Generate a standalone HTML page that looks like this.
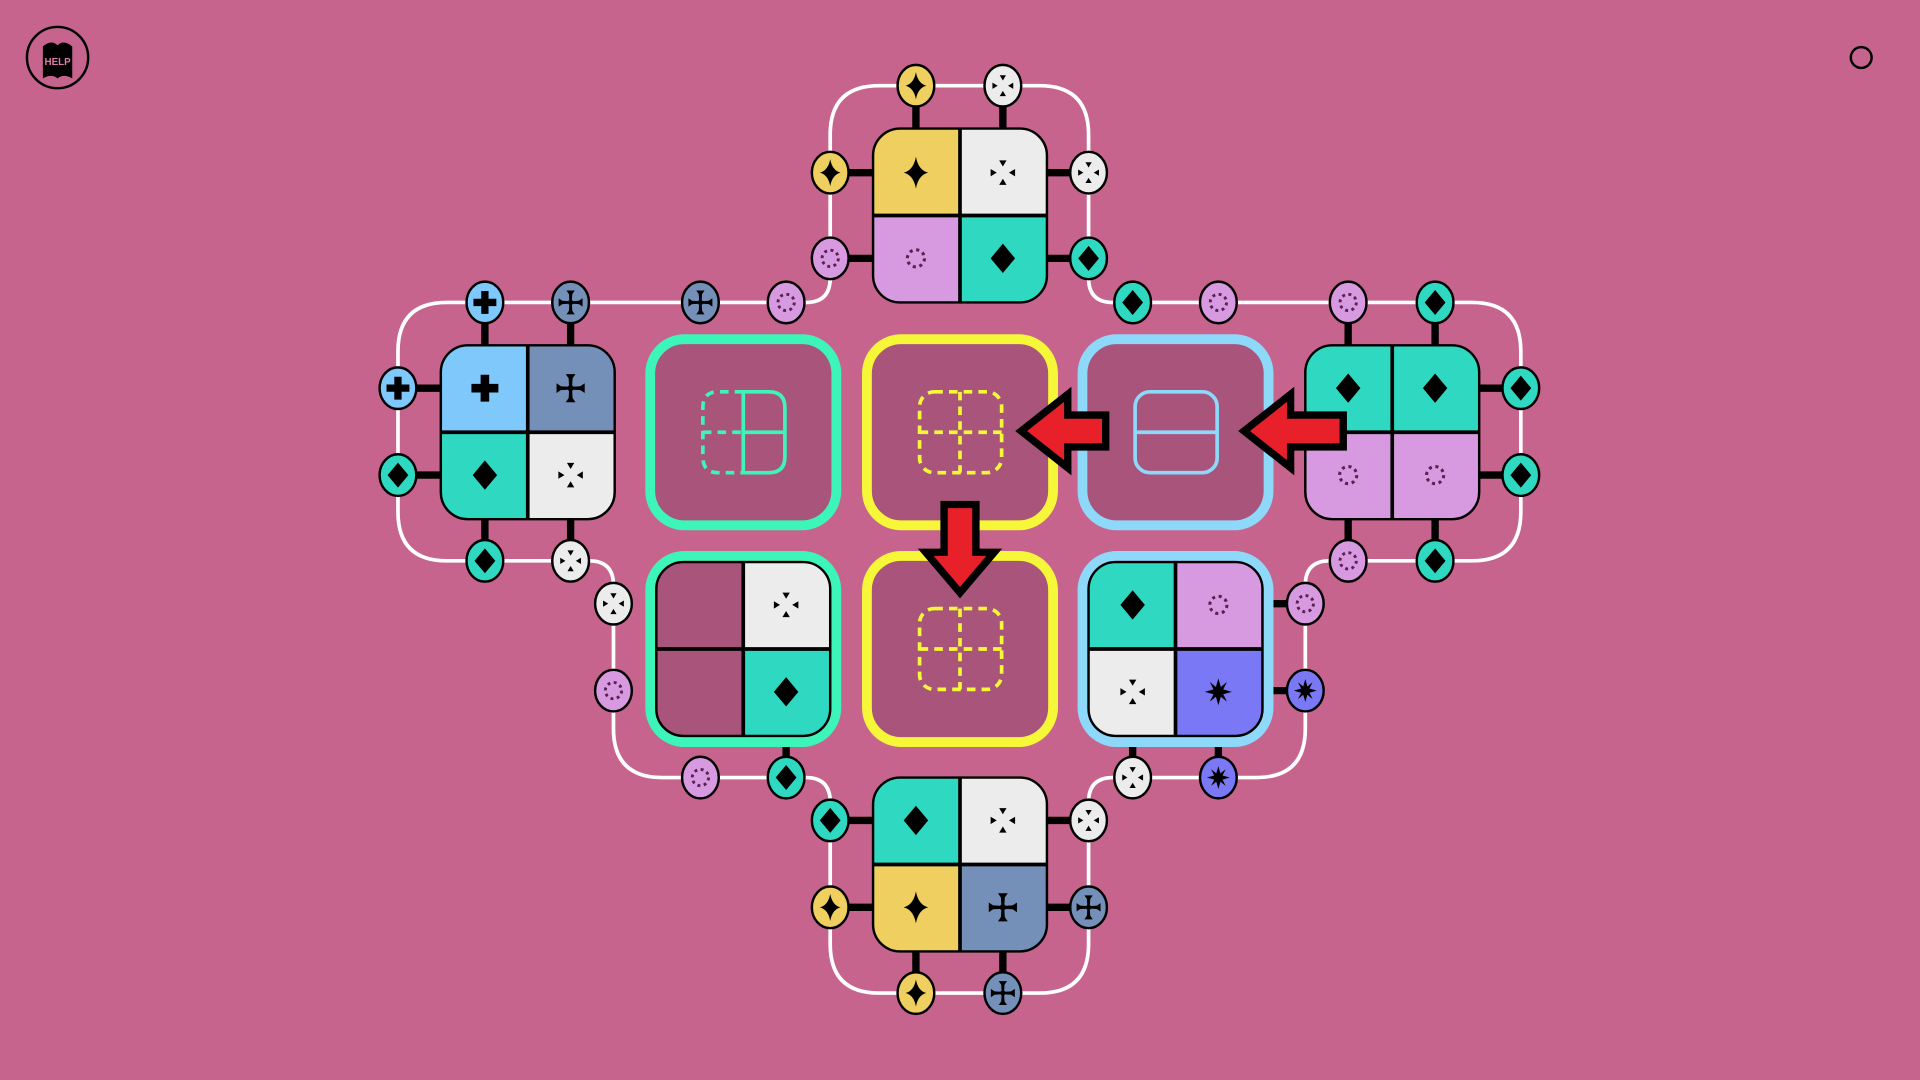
<!DOCTYPE html>
<html><head><meta charset="utf-8"><style>
html,body{margin:0;padding:0;background:#c6648e;}
svg{display:block}
</style></head><body>
<svg width="1920" height="1080" viewBox="0 0 1568 882" xmlns="http://www.w3.org/2000/svg">
<defs>
<clipPath id="tc"><rect x="-71" y="-71" width="142" height="142" rx="22"/></clipPath>
<g id="dia"><polygon points="0,-12 10,0 0,12 -10,0" fill="#000"/></g>
<g id="st4"><path d="M0,-13 Q2,-2 10,0 Q2,2 0,13 Q-2,2 -10,0 Q-2,-2 0,-13Z" fill="#000"/></g>
<g id="pl"><path d="M-3.5,-11h7v7.5h7.5v7h-7.5v7.5h-7v-7.5h-7.5v-7h7.5z" fill="#000"/></g>
<g id="dt" fill="#000"><polygon points="-3,-10 3,-10 0,-5"/><polygon points="-3,10 3,10 0,5"/><polygon points="-10,-3 -10,3 -5,0"/><polygon points="10,-3 10,3 5,0"/></g>
<g id="arm"><path d="M-1.2,-1 L-1.6,-8 L-4,-11.5 L4,-11.5 L1.6,-8 L1.2,-1 Z"/></g>
<g id="ml" fill="#000"><use href="#arm"/><use href="#arm" transform="rotate(90)"/><use href="#arm" transform="rotate(180)"/><use href="#arm" transform="rotate(270)"/><rect x="-2" y="-2" width="4" height="4"/></g>
<g id="rg"><circle r="7" fill="none" stroke="#5a2050" stroke-width="2.5" stroke-dasharray="2.5 3"/></g>
<g id="bs"><polygon fill="#000" points="0,-11 2,-4 7,-8 4,-2 11,0 4,2 7,8 2,4 0,11 -2,4 -7,8 -4,2 -11,0 -4,-2 -7,-8 -2,-4"/></g>
</defs>

<circle cx="47" cy="47" r="25" fill="none" stroke="#000" stroke-width="2"/>
<path d="M35,38 Q42,32 47,37 Q52,32 59,38 L59,64 Q52,60 47,64 Q42,60 35,64 Z" fill="#000"/>
<text x="47" y="53" font-family="Liberation Sans, sans-serif" font-size="8" font-weight="bold" fill="#e07aa8" text-anchor="middle">HELP</text>
<circle cx="1520" cy="47" r="8.5" fill="none" stroke="#000" stroke-width="2"/>

<path d="M400,247 L658,247 Q678,247 678,227 L678,110 Q678,70 718,70 L849,70 Q889,70 889,110 L889,227 Q889,247 909,247 L1202,247 Q1242,247 1242,287 L1242,418 Q1242,458 1202,458 L1086,458 Q1066,458 1066,478 L1066,595 Q1066,635 1026,635 L909,635 Q889,635 889,655 L889,771 Q889,811 849,811 L718,811 Q678,811 678,771 L678,655 Q678,635 658,635 L541,635 Q501,635 501,595 L501,478 Q501,458 481,458 L365,458 Q325,458 325,418 L325,287 Q325,247 365,247 Z" fill="none" stroke="#fff" stroke-width="3"/>

<g stroke="#000" stroke-width="6">
<line x1="748" y1="70" x2="748" y2="105"/><line x1="819" y1="70" x2="819" y2="105"/>
<line x1="678" y1="141" x2="713" y2="141"/><line x1="678" y1="211" x2="713" y2="211"/>
<line x1="889" y1="141" x2="855" y2="141"/><line x1="889" y1="211" x2="855" y2="211"/>
<line x1="396" y1="247" x2="396" y2="282"/><line x1="466" y1="247" x2="466" y2="282"/>
<line x1="325" y1="317" x2="360" y2="317"/><line x1="325" y1="388" x2="360" y2="388"/>
<line x1="396" y1="424" x2="396" y2="458"/><line x1="466" y1="424" x2="466" y2="458"/>
<line x1="1101" y1="247" x2="1101" y2="282"/><line x1="1172" y1="247" x2="1172" y2="282"/>
<line x1="1208" y1="317" x2="1242" y2="317"/><line x1="1208" y1="388" x2="1242" y2="388"/>
<line x1="1101" y1="424" x2="1101" y2="458"/><line x1="1172" y1="424" x2="1172" y2="458"/>
<line x1="678" y1="670" x2="713" y2="670"/><line x1="678" y1="741" x2="713" y2="741"/>
<line x1="855" y1="670" x2="889" y2="670"/><line x1="855" y1="741" x2="889" y2="741"/>
<line x1="748" y1="777" x2="748" y2="811"/><line x1="819" y1="777" x2="819" y2="811"/>
<line x1="642" y1="601" x2="642" y2="635"/>
<line x1="1031" y1="493" x2="1066" y2="493"/><line x1="1031" y1="564" x2="1066" y2="564"/>
<line x1="925" y1="601" x2="925" y2="635"/><line x1="995" y1="601" x2="995" y2="635"/>
</g>

<g stroke-width="8">
<rect x="531" y="277" width="152" height="152" rx="28" fill="#a9547a" stroke="#3ef5b9"/>
<rect x="708" y="277" width="152" height="152" rx="28" fill="#a9547a" stroke="#f7f73a"/>
<rect x="884" y="277" width="152" height="152" rx="28" fill="#a9547a" stroke="#8ed8fa"/>
<rect x="531" y="454" width="152" height="152" rx="28" fill="#a9547a" stroke="#3ef5b9"/>
<rect x="708" y="454" width="152" height="152" rx="28" fill="#a9547a" stroke="#f7f73a"/>
<rect x="884" y="454" width="152" height="152" rx="28" fill="#a9547a" stroke="#8ed8fa"/>
</g>
<g fill="none" stroke-width="3">
<path d="M607,320 L628,320 Q641,320 641,333 L641,373 Q641,386 628,386 L607,386 Z M607,353 L641,353" stroke="#3ef5b9"/>
<path d="M607,320 L586,320 Q574,320 574,333 L574,373 Q574,386 586,386 L607,386 M574,353 L607,353" stroke="#3ef5b9" stroke-dasharray="7 5"/>
<rect x="751" y="320" width="67" height="66" rx="12" stroke="#f7f73a" stroke-dasharray="7 5"/>
<path d="M784,320 V386 M751,353 H818" stroke="#f7f73a" stroke-dasharray="7 5"/>
<rect x="751" y="497" width="67" height="66" rx="12" stroke="#f7f73a" stroke-dasharray="7 5"/>
<path d="M784,497 V563 M751,530 H818" stroke="#f7f73a" stroke-dasharray="7 5"/>
<rect x="927" y="320" width="67" height="66" rx="12" stroke="#8ed8fa"/>
<path d="M927,353 H994" stroke="#8ed8fa"/>
</g>

<g transform="translate(784,176)"><g clip-path="url(#tc)">
<rect x="-71" y="-71" width="71" height="71" fill="#efcf5f"/><rect x="0" y="-71" width="71" height="71" fill="#ececec"/>
<rect x="-71" y="0" width="71" height="71" fill="#d79ae0"/><rect x="0" y="0" width="71" height="71" fill="#2fd8c0"/></g>
<rect x="-71" y="-71" width="142" height="142" rx="22" fill="none" stroke="#000" stroke-width="2"/>
<path d="M0,-71V71M-71,0H71" stroke="#000" stroke-width="3"/>
<use href="#st4" x="-36" y="-35"/><use href="#dt" x="35" y="-35"/><use href="#rg" x="-36" y="35"/><use href="#dia" x="35" y="35"/></g>
<g transform="translate(431,353)"><g clip-path="url(#tc)">
<rect x="-71" y="-71" width="71" height="71" fill="#7ec8fb"/><rect x="0" y="-71" width="71" height="71" fill="#7490b8"/>
<rect x="-71" y="0" width="71" height="71" fill="#2fd8c0"/><rect x="0" y="0" width="71" height="71" fill="#ececec"/></g>
<rect x="-71" y="-71" width="142" height="142" rx="22" fill="none" stroke="#000" stroke-width="2"/>
<path d="M0,-71V71M-71,0H71" stroke="#000" stroke-width="3"/>
<use href="#pl" x="-35" y="-36"/><use href="#ml" x="35" y="-36"/><use href="#dia" x="-35" y="35"/><use href="#dt" x="35" y="35"/></g>
<g transform="translate(1137,353)"><g clip-path="url(#tc)">
<rect x="-71" y="-71" width="71" height="71" fill="#2fd8c0"/><rect x="0" y="-71" width="71" height="71" fill="#2fd8c0"/>
<rect x="-71" y="0" width="71" height="71" fill="#d79ae0"/><rect x="0" y="0" width="71" height="71" fill="#d79ae0"/></g>
<rect x="-71" y="-71" width="142" height="142" rx="22" fill="none" stroke="#000" stroke-width="2"/>
<path d="M0,-71V71M-71,0H71" stroke="#000" stroke-width="3"/>
<use href="#dia" x="-36" y="-36"/><use href="#dia" x="35" y="-36"/><use href="#rg" x="-36" y="35"/><use href="#rg" x="35" y="35"/></g>
<g transform="translate(784,706)"><g clip-path="url(#tc)">
<rect x="-71" y="-71" width="71" height="71" fill="#2fd8c0"/><rect x="0" y="-71" width="71" height="71" fill="#ececec"/>
<rect x="-71" y="0" width="71" height="71" fill="#efcf5f"/><rect x="0" y="0" width="71" height="71" fill="#7490b8"/></g>
<rect x="-71" y="-71" width="142" height="142" rx="22" fill="none" stroke="#000" stroke-width="2"/>
<path d="M0,-71V71M-71,0H71" stroke="#000" stroke-width="3"/>
<use href="#dia" x="-36" y="-36"/><use href="#dt" x="35" y="-36"/><use href="#st4" x="-36" y="35"/><use href="#ml" x="35" y="35"/></g>
<g transform="translate(607,530)"><g clip-path="url(#tc)">
<rect x="-71" y="-71" width="71" height="71" fill="#a9547a"/><rect x="0" y="-71" width="71" height="71" fill="#ececec"/>
<rect x="-71" y="0" width="71" height="71" fill="#a9547a"/><rect x="0" y="0" width="71" height="71" fill="#2fd8c0"/></g>
<rect x="-71" y="-71" width="142" height="142" rx="22" fill="none" stroke="#000" stroke-width="2"/>
<path d="M0,-71V71M-71,0H71" stroke="#000" stroke-width="3"/>
<use href="#dt" x="35" y="-36"/><use href="#dia" x="35" y="35"/></g>
<g transform="translate(960,530)"><g clip-path="url(#tc)">
<rect x="-71" y="-71" width="71" height="71" fill="#2fd8c0"/><rect x="0" y="-71" width="71" height="71" fill="#d79ae0"/>
<rect x="-71" y="0" width="71" height="71" fill="#ececec"/><rect x="0" y="0" width="71" height="71" fill="#7b78f6"/></g>
<rect x="-71" y="-71" width="142" height="142" rx="22" fill="none" stroke="#000" stroke-width="2"/>
<path d="M0,-71V71M-71,0H71" stroke="#000" stroke-width="3"/>
<use href="#dia" x="-35" y="-36"/><use href="#rg" x="35" y="-36"/><use href="#dt" x="-35" y="35"/><use href="#bs" x="35" y="35"/></g>

<g stroke="#000" stroke-width="2">
<ellipse cx="748" cy="70" rx="15" ry="17" fill="#efcf5f"/><ellipse cx="819" cy="70" rx="15" ry="17" fill="#ececec"/>
<ellipse cx="678" cy="141" rx="15" ry="17" fill="#efcf5f"/><ellipse cx="678" cy="211" rx="15" ry="17" fill="#d79ae0"/>
<ellipse cx="889" cy="141" rx="15" ry="17" fill="#ececec"/><ellipse cx="889" cy="211" rx="15" ry="17" fill="#2fd8c0"/>
<ellipse cx="572" cy="247" rx="15" ry="17" fill="#7490b8"/><ellipse cx="642" cy="247" rx="15" ry="17" fill="#d79ae0"/>
<ellipse cx="925" cy="247" rx="15" ry="17" fill="#2fd8c0"/><ellipse cx="995" cy="247" rx="15" ry="17" fill="#d79ae0"/>
<ellipse cx="396" cy="247" rx="15" ry="17" fill="#7ec8fb"/><ellipse cx="466" cy="247" rx="15" ry="17" fill="#7490b8"/>
<ellipse cx="325" cy="317" rx="15" ry="17" fill="#7ec8fb"/><ellipse cx="325" cy="388" rx="15" ry="17" fill="#2fd8c0"/>
<ellipse cx="396" cy="458" rx="15" ry="17" fill="#2fd8c0"/><ellipse cx="466" cy="458" rx="15" ry="17" fill="#ececec"/>
<ellipse cx="1101" cy="247" rx="15" ry="17" fill="#d79ae0"/><ellipse cx="1172" cy="247" rx="15" ry="17" fill="#2fd8c0"/>
<ellipse cx="1242" cy="317" rx="15" ry="17" fill="#2fd8c0"/><ellipse cx="1242" cy="388" rx="15" ry="17" fill="#2fd8c0"/>
<ellipse cx="1101" cy="458" rx="15" ry="17" fill="#d79ae0"/><ellipse cx="1172" cy="458" rx="15" ry="17" fill="#2fd8c0"/>
<ellipse cx="501" cy="493" rx="15" ry="17" fill="#ececec"/><ellipse cx="501" cy="564" rx="15" ry="17" fill="#d79ae0"/>
<ellipse cx="572" cy="635" rx="15" ry="17" fill="#d79ae0"/><ellipse cx="642" cy="635" rx="15" ry="17" fill="#2fd8c0"/>
<ellipse cx="1066" cy="493" rx="15" ry="17" fill="#d79ae0"/><ellipse cx="1066" cy="564" rx="15" ry="17" fill="#7b78f6"/>
<ellipse cx="925" cy="635" rx="15" ry="17" fill="#ececec"/><ellipse cx="995" cy="635" rx="15" ry="17" fill="#7b78f6"/>
<ellipse cx="678" cy="670" rx="15" ry="17" fill="#2fd8c0"/><ellipse cx="678" cy="741" rx="15" ry="17" fill="#efcf5f"/>
<ellipse cx="889" cy="670" rx="15" ry="17" fill="#ececec"/><ellipse cx="889" cy="741" rx="15" ry="17" fill="#7490b8"/>
<ellipse cx="748" cy="811" rx="15" ry="17" fill="#efcf5f"/><ellipse cx="819" cy="811" rx="15" ry="17" fill="#7490b8"/>
</g>
<g transform="translate(0,0)">
<use href="#st4" transform="translate(748,70) scale(0.85)"/><use href="#dt" transform="translate(819,70) scale(0.85)"/>
<use href="#st4" transform="translate(678,141) scale(0.85)"/><use href="#rg" transform="translate(678,211) scale(0.95)"/>
<use href="#dt" transform="translate(889,141) scale(0.85)"/><use href="#dia" transform="translate(889,211) scale(0.85)"/>
<use href="#ml" transform="translate(572,247) scale(0.85)"/><use href="#rg" transform="translate(642,247) scale(0.95)"/>
<use href="#dia" transform="translate(925,247) scale(0.85)"/><use href="#rg" transform="translate(995,247) scale(0.95)"/>
<use href="#pl" transform="translate(396,247) scale(0.85)"/><use href="#ml" transform="translate(466,247) scale(0.85)"/>
<use href="#pl" transform="translate(325,317) scale(0.85)"/><use href="#dia" transform="translate(325,388) scale(0.85)"/>
<use href="#dia" transform="translate(396,458) scale(0.85)"/><use href="#dt" transform="translate(466,458) scale(0.85)"/>
<use href="#rg" transform="translate(1101,247) scale(0.95)"/><use href="#dia" transform="translate(1172,247) scale(0.85)"/>
<use href="#dia" transform="translate(1242,317) scale(0.85)"/><use href="#dia" transform="translate(1242,388) scale(0.85)"/>
<use href="#rg" transform="translate(1101,458) scale(0.95)"/><use href="#dia" transform="translate(1172,458) scale(0.85)"/>
<use href="#dt" transform="translate(501,493) scale(0.85)"/><use href="#rg" transform="translate(501,564) scale(0.95)"/>
<use href="#rg" transform="translate(572,635) scale(0.95)"/><use href="#dia" transform="translate(642,635) scale(0.85)"/>
<use href="#rg" transform="translate(1066,493) scale(0.95)"/><use href="#bs" transform="translate(1066,564) scale(0.85)"/>
<use href="#dt" transform="translate(925,635) scale(0.85)"/><use href="#bs" transform="translate(995,635) scale(0.85)"/>
<use href="#dia" transform="translate(678,670) scale(0.85)"/><use href="#st4" transform="translate(678,741) scale(0.85)"/>
<use href="#dt" transform="translate(889,670) scale(0.85)"/><use href="#ml" transform="translate(889,741) scale(0.85)"/>
<use href="#st4" transform="translate(748,811) scale(0.85)"/><use href="#ml" transform="translate(819,811) scale(0.85)"/>
</g>

<g fill="#e8202a" stroke="#000" stroke-width="6" stroke-linejoin="miter">
<polygon points="834,352 872,322 872,339 903,339 903,365 872,365 872,382"/>
<polygon points="1016,352 1054,322 1054,339 1097,339 1097,365 1054,365 1054,382"/>
<polygon points="784,484 756,451 771,451 771,412 797,412 797,451 812,451"/>
</g>
</svg>
</body></html>
